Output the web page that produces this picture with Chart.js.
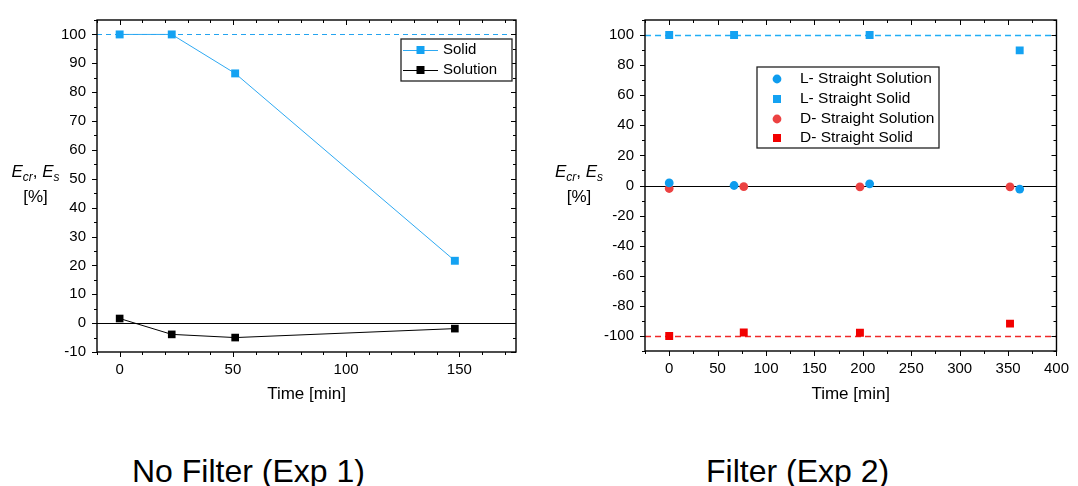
<!DOCTYPE html>
<html>
<head>
<meta charset="utf-8">
<script src="https://cdn.jsdelivr.net/npm/chart.js@4.4.0/dist/chart.umd.min.js"></script>
<style>
  body { margin: 0; background: #fff; width: 1078px; height: 486px; position: relative; overflow: hidden;
         font-family: "Liberation Sans", Arial, sans-serif; }
  #leftChart { position: absolute; left: 0; top: 0; }
  #rightChart { position: absolute; left: 540px; top: 0; }
  .caption { position: absolute; top: 453px; font-size: 32px; line-height: 36px; color: #000; white-space: nowrap; }
</style>
</head>
<body>
<canvas id="leftChart" width="540" height="420"></canvas>
<canvas id="rightChart" width="538" height="420"></canvas>
<div class="caption" style="left:132px">No Filter (Exp 1)</div>
<div class="caption" style="left:706px">Filter (Exp 2)</div>
<script>
// Exp 1 - no filter
const exp1Time = [0, 23, 51, 148];
const exp1Solid = [100, 100, 86.5, 21.6];
const exp1Solution = [1.6, -3.9, -5.0, -1.9];
const exp1XTicks = [0, 50, 100, 150];
const exp1YTicks = [-10, 0, 10, 20, 30, 40, 50, 60, 70, 80, 90, 100];

// Exp 2 - filter
const lSolutionTime = [0, 67, 207, 362];
const lSolution = [1.7, 0, 1.1, -2.4];
const lSolidTime = [0, 67, 207, 362];
const lSolid = [100, 100, 100, 89.8];
const dSolutionTime = [0, 77, 197, 352];
const dSolution = [-2.0, -0.7, -0.9, -0.9];
const dSolidTime = [0, 77, 197, 352];
const dSolid = [-100, -97.7, -97.9, -91.8];
const exp2XTicks = [0, 50, 100, 150, 200, 250, 300, 350, 400];
const exp2YTicks = [-100, -80, -60, -40, -20, 0, 20, 40, 60, 80, 100];

const FONT = "'Liberation Sans', Arial, sans-serif";
const BLUE = '#14A2F2';
const RED = '#F20000';

const pts = (xs, ys) => xs.map((x, i) => ({ x: x, y: ys[i] }));

// frame + Origin style ticks (out on left/bottom, in on top/right)
const framePlugin = {
  id: 'frame',
  afterDraw(chart, args, o) {
    const { ctx, chartArea: a, scales: { x, y } } = chart;
    ctx.save();
    ctx.strokeStyle = '#000';
    ctx.lineWidth = 1;
    const line = (x1, y1, x2, y2) => { ctx.beginPath(); ctx.moveTo(x1, y1); ctx.lineTo(x2, y2); ctx.stroke(); };
    const isMajor = (v, step) => Math.abs(v / step - Math.round(v / step)) < 1e-6;
    for (let v = Math.ceil(x.min / o.xMinor) * o.xMinor; v <= x.max + 1e-9; v += o.xMinor) {
      const px = Math.round(x.getPixelForValue(v)) + 0.5;
      const len = isMajor(v, o.xMajor) ? 5 : 3;
      line(px, a.bottom, px, a.bottom + len);
      line(px, a.top, px, a.top + len);
    }
    for (let v = Math.ceil(y.min / o.yMinor) * o.yMinor; v <= y.max + 1e-9; v += o.yMinor) {
      const py = Math.round(y.getPixelForValue(v)) + 0.5;
      const len = isMajor(v, o.yMajor) ? 5 : 3;
      line(a.left - len, py, a.left, py);
      line(a.right - len, py, a.right, py);
    }
    ctx.lineWidth = 1.4;
    ctx.strokeRect(a.left, a.top, a.right - a.left, a.bottom - a.top);
    ctx.restore();
  }
};

// horizontal reference lines across the plot
const refPlugin = {
  id: 'refLines',
  beforeDatasetsDraw(chart, args, o) {
    const { ctx, chartArea: a, scales: { y } } = chart;
    ctx.save();
    o.lines.forEach(l => {
      const py = Math.round(y.getPixelForValue(l.value)) + 0.5;
      ctx.strokeStyle = l.color;
      ctx.lineWidth = l.width || 1;
      ctx.setLineDash(l.dash || []);
      ctx.beginPath(); ctx.moveTo(a.left, py); ctx.lineTo(a.right, py); ctx.stroke();
    });
    ctx.restore();
  }
};

function drawMarker(ctx, shape, cx, cy, color) {
  ctx.fillStyle = color;
  if (shape === 'rect') ctx.fillRect(cx - 4, cy - 4, 8, 8);
  else { ctx.beginPath(); ctx.arc(cx, cy, 4.4, 0, Math.PI * 2); ctx.fill(); }
}

const legendPlugin = {
  id: 'boxLegend',
  afterDraw(chart, args, o) {
    const ctx = chart.ctx;
    const b = o.box;
    ctx.save();
    ctx.fillStyle = '#fff';
    ctx.fillRect(b[0], b[1], b[2] - b[0], b[3] - b[1]);
    ctx.strokeStyle = '#222';
    ctx.lineWidth = 1.3;
    ctx.strokeRect(b[0], b[1], b[2] - b[0], b[3] - b[1]);
    ctx.font = o.fontSize + 'px ' + FONT;
    ctx.textBaseline = 'middle';
    o.items.forEach((it, i) => {
      const yy = o.rows[i];
      if (o.line) {
        ctx.strokeStyle = it.lineColor;
        ctx.lineWidth = 1;
        ctx.beginPath(); ctx.moveTo(o.line[0], yy + 0.5); ctx.lineTo(o.line[1], yy + 0.5); ctx.stroke();
      }
      drawMarker(ctx, it.shape, o.markerX, yy, it.color);
      ctx.fillStyle = '#000';
      ctx.fillText(it.text, o.textX, yy);
    });
    ctx.restore();
  }
};

// y title "E_cr, E_s [%]" with subscripts
const yTitlePlugin = {
  id: 'yTitle',
  afterDraw(chart, args, o) {
    const ctx = chart.ctx;
    const parts = [
      ['E', 'italic 17px ' + FONT, 0],
      ['cr', 'italic 12px ' + FONT, 4],
      [', ', '17px ' + FONT, 0],
      ['E', 'italic 17px ' + FONT, 0],
      ['s', 'italic 12px ' + FONT, 4]
    ];
    ctx.save();
    ctx.fillStyle = '#000';
    ctx.textBaseline = 'alphabetic';
    let w = 0;
    parts.forEach(p => { ctx.font = p[1]; w += ctx.measureText(p[0]).width; });
    let xx = o.cx - w / 2;
    parts.forEach(p => { ctx.font = p[1]; ctx.fillText(p[0], xx, o.y1 + p[2]); xx += ctx.measureText(p[0]).width; });
    ctx.font = '17px ' + FONT;
    ctx.textAlign = 'center';
    ctx.fillText('[%]', o.cx, o.y2);
    ctx.restore();
  }
};

function axes(xMin, xMax, xTicks, yMin, yMax, yTicks, yWidth, xHeight) {
  const tickOpts = { font: { family: FONT, size: 15 }, color: '#000', callback: v => String(v) };
  return {
    x: {
      type: 'linear', min: xMin, max: xMax,
      afterBuildTicks: s => { s.ticks = xTicks.map(v => ({ value: v })); },
      afterFit: s => { s.height = xHeight; },
      grid: { display: false, drawTicks: false }, border: { display: false },
      ticks: Object.assign({ padding: 9, maxRotation: 0, autoSkip: false }, tickOpts),
      title: { display: true, text: 'Time [min]', color: '#000', font: { family: FONT, size: 17 }, padding: { top: 0, bottom: 15 } }
    },
    y: {
      type: 'linear', min: yMin, max: yMax,
      afterBuildTicks: s => { s.ticks = yTicks.map(v => ({ value: v })); },
      afterFit: s => { s.width = yWidth; },
      grid: { display: false, drawTicks: false }, border: { display: false },
      ticks: Object.assign({ padding: 11, autoSkip: false }, tickOpts)
    }
  };
}

new Chart(document.getElementById('leftChart'), {
  type: 'scatter',
  data: {
    datasets: [
      { label: 'Solid', data: pts(exp1Time, exp1Solid), showLine: true, borderColor: '#2EA9F2', borderWidth: 1,
        pointStyle: 'rect', pointRadius: 5.6, pointBorderWidth: 0, pointBackgroundColor: BLUE },
      { label: 'Solution', data: pts(exp1Time, exp1Solution), showLine: true, borderColor: '#000', borderWidth: 1,
        pointStyle: 'rect', pointRadius: 5.4, pointBorderWidth: 0, pointBackgroundColor: '#000' }
    ]
  },
  options: {
    responsive: false, animation: false,
    layout: { padding: { top: 15, right: 24, left: 0, bottom: 0 } },
    scales: axes(-10, 175, exp1XTicks, -10, 105, exp1YTicks, 97, 68),
    plugins: {
      legend: { display: false }, tooltip: { enabled: false },
      frame: { xMajor: 50, xMinor: 10, yMajor: 10, yMinor: 5 },
      refLines: { lines: [{ value: 100, color: '#24A4F0', dash: [5, 4] }, { value: 0, color: '#000' }] },
      boxLegend: {
        box: [401, 39, 512, 81], rows: [50, 70], line: [403, 438], markerX: 420.5, textX: 443, fontSize: 15,
        items: [
          { text: 'Solid', shape: 'rect', color: BLUE, lineColor: '#2EA9F2' },
          { text: 'Solution', shape: 'rect', color: '#000', lineColor: '#000' }
        ]
      },
      yTitle: { cx: 35.5, y1: 176.5, y2: 202 }
    }
  },
  plugins: [refPlugin, framePlugin, legendPlugin, yTitlePlugin]
});

new Chart(document.getElementById('rightChart'), {
  type: 'scatter',
  data: {
    datasets: [
      { label: 'L- Straight Solution', data: pts(lSolutionTime, lSolution), pointStyle: 'circle', pointRadius: 4.4,
        pointBorderWidth: 0, pointBackgroundColor: '#0E9CEE' },
      { label: 'L- Straight Solid', data: pts(lSolidTime, lSolid), pointStyle: 'rect', pointRadius: 5.6,
        pointBorderWidth: 0, pointBackgroundColor: BLUE },
      { label: 'D- Straight Solution', data: pts(dSolutionTime, dSolution), pointStyle: 'circle', pointRadius: 4.4,
        pointBorderWidth: 0, pointBackgroundColor: '#EC4242' },
      { label: 'D- Straight Solid', data: pts(dSolidTime, dSolid), pointStyle: 'rect', pointRadius: 5.6,
        pointBorderWidth: 0, pointBackgroundColor: RED }
    ]
  },
  options: {
    responsive: false, animation: false,
    layout: { padding: { top: 15, right: 14, left: 0, bottom: 0 } },
    scales: axes(-25, 400, exp2XTicks, -110, 110, exp2YTicks, 105, 69),
    plugins: {
      legend: { display: false }, tooltip: { enabled: false },
      frame: { xMajor: 50, xMinor: 25, yMajor: 20, yMinor: 10 },
      refLines: { lines: [
        { value: 100, color: '#22AEF5', dash: [6, 4], width: 1.5 },
        { value: -100, color: '#F02828', dash: [6, 4], width: 1.5 },
        { value: 0, color: '#000' }
      ] },
      boxLegend: {
        box: [217, 67, 399, 148], rows: [79, 99, 119, 138], markerX: 237, textX: 260, fontSize: 15.5,
        items: [
          { text: 'L- Straight Solution', shape: 'circle', color: '#0E9CEE' },
          { text: 'L- Straight Solid', shape: 'rect', color: BLUE },
          { text: 'D- Straight Solution', shape: 'circle', color: '#EC4242' },
          { text: 'D- Straight Solid', shape: 'rect', color: RED }
        ]
      },
      yTitle: { cx: 39, y1: 176.5, y2: 202 }
    }
  },
  plugins: [refPlugin, framePlugin, legendPlugin, yTitlePlugin]
});
</script>
</body>
</html>
